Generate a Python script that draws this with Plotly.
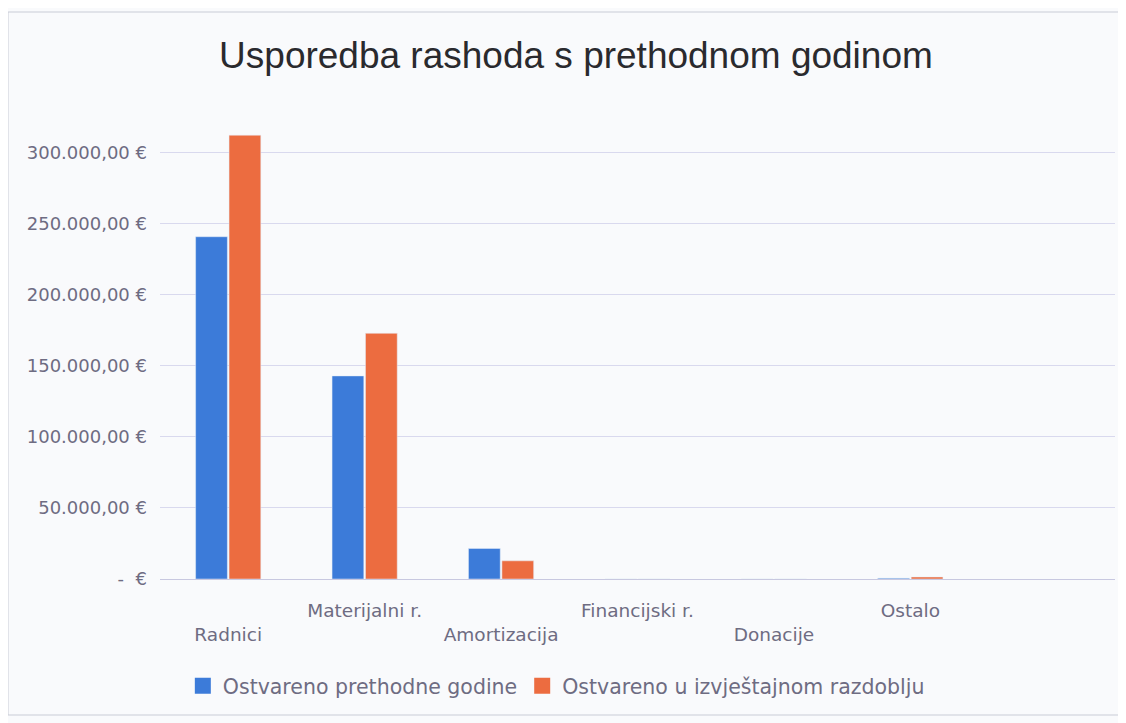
import plotly.graph_objects as go

categories = ["Radnici", "Materijalni r.", "Amortizacija", "Financijski r.", "Donacije", "Ostalo"]
prev_year = [241000, 143000, 21500, 0, 0, 600]
current = [312500, 173000, 12800, 0, 0, 1400]
series_names = ["Ostvareno prethodne godine", "Ostvareno u izvještajnom razdoblju"]
y_ticks = [0, 50000, 100000, 150000, 200000, 250000, 300000]

def fmt(v):
    if v == 0:
        return "-  €"
    s = f"{v:,.2f}".replace(",", "X").replace(".", ",").replace("X", ".")
    return s + " €"

tick_text = [("<br>" + c) if i % 2 == 0 else c for i, c in enumerate(categories)]

blue = "#3c7bd9"
orange = "#ec6c40"
label_color = "#6e6c82"

# page body has an 8px default margin: plot area placed to compensate
L, R, T, B = 152, 19, 110, 152
W, H = 1126, 723
pw, ph = W - L - R, H - T - B

fig = go.Figure()
for name, vals, col in [(series_names[0], prev_year, blue), (series_names[1], current, orange)]:
    fig.add_trace(go.Bar(x=categories, y=vals, name=name, marker_color=col,
                         legendgroup=name, showlegend=False))
    # legend-only entry with a larger square swatch
    fig.add_trace(go.Scatter(x=[None], y=[None], mode="markers", name=name, legendgroup=name,
                             marker=dict(symbol="square", size=20, color=col)))

fig.update_layout(
    width=W, height=H,
    paper_bgcolor="#f9fafc", plot_bgcolor="#f9fafc",
    margin=dict(l=L, r=R, t=T, b=B),
    barmode="group", bargap=0.51, bargroupgap=0.05,
    title=dict(text="Usporedba rashoda s prethodnom godinom", x=0.5044, xanchor="center",
               y=0.935, yanchor="middle", xref="container", yref="container",
               font=dict(family="Liberation Sans, Arial", size=37, color="#2a2a2e")),
    font=dict(family="DejaVu Sans", color=label_color),
    showlegend=True,
    legend=dict(orientation="h", x=0.415, xanchor="center", y=-0.232, yanchor="middle",
                itemsizing="trace", itemwidth=30, tracegroupgap=0,
                font=dict(size=20.5, color=label_color), bgcolor="rgba(0,0,0,0)"),
    xaxis=dict(range=[-0.5, 6.5], tickmode="array", tickvals=categories, ticktext=tick_text,
               showgrid=False, zeroline=False, showline=False, ticks="",
               tickfont=dict(size=18.5, color=label_color), ticklabelstandoff=18),
    yaxis=dict(range=[0, 324600], tickmode="array", tickvals=y_ticks,
               ticktext=[fmt(v) for v in y_ticks], showgrid=True, gridcolor="#d9d9ee",
               gridwidth=1, zeroline=True, zerolinecolor="#c8c8e0", zerolinewidth=1,
               showline=False, ticks="", tickfont=dict(size=18, color=label_color),
               ticklabelstandoff=12),
    shapes=[dict(type="rect", xref="paper", yref="paper",
                 x0=(0 - L) / pw, x1=(1112 - L) / pw,
                 y0=(H - B - 707) / ph, y1=(H - B - 4) / ph,
                 line=dict(color="#c9ccd6", width=1), fillcolor="rgba(0,0,0,0)", layer="below")],
)

fig.write_html("out.html")
